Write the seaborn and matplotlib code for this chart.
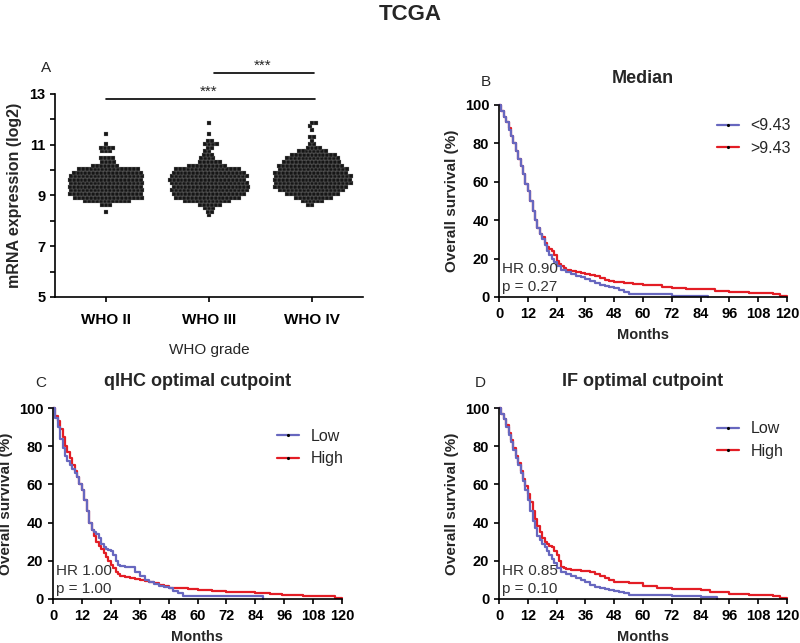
import numpy as np
import pandas as pd
import matplotlib
matplotlib.use('Agg')
import matplotlib.pyplot as plt
from matplotlib.lines import Line2D
import seaborn as sns

# Panel A: mRNA expression per WHO grade (points sit in rows: value level -> number of points)
grades = ['WHO II', 'WHO III', 'WHO IV']
who2_levels = [8.36, 8.64, 8.78, 8.92, 9.06, 9.2, 9.34, 9.48, 9.62, 9.76, 9.9, 10.04, 10.18, 10.32, 10.46, 10.74, 10.88, 11.02, 11.44]
who2_counts = [1, 3, 12, 18, 19, 19, 19, 19, 19, 19, 18, 16, 7, 4, 4, 3, 4, 1, 1]
who3_levels = [8.22, 8.36, 8.5, 8.64, 8.78, 8.92, 9.06, 9.2, 9.34, 9.48, 9.62, 9.76, 9.9, 10.04, 10.18, 10.32, 10.46, 10.6, 10.74, 10.88, 11.02, 11.16, 11.44, 11.86]
who3_counts = [1, 2, 3, 6, 12, 17, 19, 20, 20, 20, 20, 20, 19, 17, 10, 6, 4, 3, 2, 2, 4, 2, 1, 1]
who4_levels = [8.64, 8.78, 8.92, 9.06, 9.2, 9.34, 9.48, 9.62, 9.76, 9.9, 10.04, 10.18, 10.32, 10.46, 10.6, 10.74, 10.88, 11.02, 11.16, 11.3, 11.58, 11.72, 11.86]
who4_counts = [2, 6, 10, 14, 17, 19, 20, 20, 20, 19, 18, 17, 15, 14, 12, 8, 4, 2, 1, 2, 1, 1, 2]

# Panel B: median split
b_labels = ['<9.43', '>9.43']
b_low_t = [0, 1, 2, 3, 4, 5, 6, 7, 8, 9, 10, 11, 12, 13, 14, 15, 16, 17, 18, 19, 20, 21, 22, 23, 24,
           26, 28, 30, 32, 34, 36, 38, 40, 42, 44, 46, 48, 50, 52, 54, 72, 87]
b_low_s = [100, 97, 94, 91, 87, 84, 80, 76, 72, 68, 64, 59, 55, 50, 45, 40, 36, 33, 30, 27, 24, 22, 20, 18, 16,
           14, 13, 12, 11, 10.5, 9.5, 8.5, 7.5, 6.5, 5.5, 5, 4.5, 3.5, 2.5, 1.7, 0.6, 0]
b_high_t = [0, 1, 2, 3, 4, 5, 6, 7, 8, 9, 10, 11, 12, 13, 14, 15, 16, 17, 18, 19, 20, 21, 22, 23, 24, 25, 26, 27, 28,
            30, 32, 34, 36, 38, 40, 42, 44, 46, 48, 52, 56, 60, 64, 68, 72, 78, 84, 90, 96, 104, 114, 117, 120]
b_high_s = [100, 97, 94, 91, 88, 84, 80, 76, 72, 68, 64, 59, 55, 50, 45, 40, 36, 33, 31, 28, 26, 25, 24, 22, 19, 17, 16, 15, 14,
            13.5, 13, 12.5, 12, 11.5, 11, 10, 9, 8.5, 8, 7.5, 7, 6.5, 6, 5, 4.5, 4.2, 4, 3, 2.5, 2, 1.5, 0.5, 0.5]

# Panel C: qIHC optimal cutpoint
c_labels = ['Low', 'High']
c_low_t = [0, 1, 2, 3, 4, 5, 6, 7, 8, 9, 10, 11, 12, 13, 14, 15, 16, 17, 18, 19, 20, 21, 22, 23, 24, 25, 26, 27, 28,
           30, 32, 34, 36, 38, 40, 42, 44, 46, 48, 50, 52, 54, 87]
c_low_s = [100, 95, 90, 84, 79, 75, 72, 70, 68, 66, 64, 60, 57, 52, 46, 40, 36, 35, 34, 32, 29, 27, 26, 25.5, 25, 23, 20, 18, 17.5,
           17, 16.5, 14, 12, 10, 9, 8, 7, 6.5, 5.5, 4, 3, 1.8, 0]
c_high_t = [0, 1, 2, 3, 4, 5, 6, 7, 8, 9, 10, 11, 12, 13, 14, 15, 16, 17, 18, 19, 20, 21, 22, 23, 24, 25, 26, 27, 28,
            30, 32, 34, 36, 38, 40, 42, 44, 46, 48, 52, 56, 60, 66, 72, 84, 90, 95, 104, 114, 117, 120]
c_high_s = [100, 96, 93, 89, 85, 80, 77, 74, 70, 67, 64, 60, 57, 52, 46, 40, 36, 33, 30, 28, 26, 24, 22, 20, 18, 16, 14, 13, 12,
            11.5, 11, 10.5, 10, 9.5, 9, 8.5, 7.5, 7, 6, 5.5, 5, 4.5, 4, 3.5, 3, 2.5, 2, 1.5, 1.5, 0.5, 0.5]

# Panel D: IF optimal cutpoint
d_labels = ['Low', 'High']
d_low_t = [0, 1, 2, 3, 4, 5, 6, 7, 8, 9, 10, 11, 12, 13, 14, 15, 16, 17, 18, 19, 20, 21, 22, 23, 24,
           26, 28, 30, 32, 34, 36, 38, 40, 42, 44, 46, 48, 50, 52, 54, 60, 72, 84, 91]
d_low_s = [100, 97, 94, 90, 86, 82, 78, 74, 70, 66, 62, 57, 52, 46, 41, 37, 33, 31, 29, 27, 25, 23, 21, 19, 16,
           14, 13, 12, 11, 10, 9, 7.5, 6.5, 5.5, 5, 4.5, 4, 3.5, 3, 2, 2, 1.5, 1, 0]
d_high_t = [0, 1, 2, 3, 4, 5, 6, 7, 8, 9, 10, 11, 12, 13, 14, 15, 16, 17, 18, 19, 20, 21, 22, 23, 24, 25, 26, 27, 28,
            30, 32, 34, 36, 38, 40, 42, 44, 46, 48, 54, 60, 66, 72, 84, 88, 96, 104, 114, 117, 120]
d_high_s = [100, 97, 94, 91, 87, 83, 79, 75, 71, 67, 63, 59, 55, 51, 46, 42, 38, 35, 32, 30, 29, 28, 27, 25, 23, 20, 17, 16, 15.5,
            15, 15, 14.5, 14.5, 14, 13, 12, 11, 10, 9, 8.5, 7, 6, 5, 4.5, 3.5, 2.5, 2, 1.5, 0.5, 0.5]

stats_b = ['HR 0.90', 'p = 0.27']
stats_c = ['HR 1.00', 'p = 1.00']
stats_d = ['HR 0.85', 'p = 0.10']

blue = '#6767bf'
red = '#e31d25'

sns.set_style('ticks')
plt.rcParams['font.family'] = ['Liberation Sans', 'DejaVu Sans']
plt.rcParams['axes.linewidth'] = 1.2
plt.rcParams['xtick.major.width'] = 1.2
plt.rcParams['ytick.major.width'] = 1.2
plt.rcParams['xtick.major.size'] = 3.5
plt.rcParams['ytick.major.size'] = 3.5
plt.rcParams['xtick.color'] = 'black'
plt.rcParams['ytick.color'] = 'black'
plt.rcParams['axes.edgecolor'] = 'black'

fig = plt.figure(figsize=(8, 6.43), dpi=100)
fig.text(0.5125, 1 - 14 / 643, 'TCGA', ha='center', va='center', fontsize=16, fontweight='bold')

# ---- Panel A ----
expr = pd.DataFrame({
    'grade': np.repeat(grades, [sum(who2_counts), sum(who3_counts), sum(who4_counts)]),
    'expr': np.concatenate([np.repeat(who2_levels, who2_counts),
                            np.repeat(who3_levels, who3_counts),
                            np.repeat(who4_levels, who4_counts)]),
})
axA = fig.add_axes([55 / 800, 1 - 297 / 643, 308 / 800, 203 / 643])
sns.swarmplot(data=expr, x='grade', y='expr', order=grades, color='#161616', marker='s',
              size=2.5, linewidth=0.2, edgecolor='#9a9a9a', ax=axA, warn_thresh=1)
axA.set_xlim(-0.5, 2.5)
axA.set_ylim(5, 13)
axA.set_yticks(range(5, 14))
axA.set_yticklabels([str(v) if v % 2 == 1 else '' for v in range(5, 14)], fontsize=10.5, fontweight='bold')
axA.set_xticks(range(3))
axA.set_xticklabels(grades, fontsize=11, fontweight='bold')
axA.tick_params(axis='x', pad=8)
axA.set_xlabel('WHO grade', fontsize=11)
axA.xaxis.set_label_coords(0.5, -0.227)
axA.set_ylabel('mRNA expression (log2)', fontsize=11.5, fontweight='bold')
axA.yaxis.set_label_coords(-0.107, 0.5)
sns.despine(ax=axA)

# significance bars
axA.plot([0, 2.03], [12.8, 12.8], color='black', lw=1.2, clip_on=False)
axA.text(1.0, 12.8, '***', ha='center', va='bottom', fontsize=11)
axA.plot([1.05, 2.02], [13.82, 13.82], color='black', lw=1.2, clip_on=False)
axA.text(1.52, 13.82, '***', ha='center', va='bottom', fontsize=11)


def km_panel(rect, low_t, low_s, high_t, high_s, labels, stats, title, leg_xy):
    ax = fig.add_axes(rect)
    df = pd.DataFrame({
        'month': low_t + high_t,
        'surv': low_s + high_s,
        'group': [labels[0]] * len(low_t) + [labels[1]] * len(high_t),
    })
    # high group first so the low (blue) line sits on top
    sns.lineplot(data=df, x='month', y='surv', hue='group', hue_order=[labels[1], labels[0]],
                 palette=[red, blue], estimator=None, drawstyle='steps-post',
                 lw=1.6, legend=False, ax=ax, clip_on=False)
    ax.set_xlim(0, 120)
    ax.set_ylim(0, 100)
    ax.set_xticks(range(0, 121, 12))
    ax.set_yticks(range(0, 101, 20))
    for lab in ax.get_xticklabels() + ax.get_yticklabels():
        lab.set_fontweight('bold')
        lab.set_fontsize(10.5)
    ax.set_xlabel('Months', fontsize=10.5, fontweight='bold')
    ax.xaxis.set_label_coords(0.5, -0.16)
    ax.set_ylabel('Overall survival (%)', fontsize=11, fontweight='bold')
    ax.yaxis.set_label_coords(-0.14, 0.5)
    ax.set_title(title, fontsize=13, fontweight='bold', pad=16)
    ax.text(0.01, 0.145, stats[0], transform=ax.transAxes, ha='left', va='center', fontsize=11, color='#333333')
    ax.text(0.01, 0.05, stats[1], transform=ax.transAxes, ha='left', va='center', fontsize=11, color='#333333')
    handles = [Line2D([], [], color=blue, lw=1.6, marker='.', markersize=2.5,
                      markerfacecolor='black', markeredgecolor='black'),
               Line2D([], [], color=red, lw=1.6, marker='.', markersize=2.5,
                      markerfacecolor='black', markeredgecolor='black')]
    ax.legend(handles, labels, loc='upper left', bbox_to_anchor=leg_xy, frameon=False,
              fontsize=11.5, handlelength=1.4, handletextpad=0.7, labelspacing=0.45,
              borderpad=0, borderaxespad=0)
    sns.despine(ax=ax)
    return ax


axB = km_panel([499 / 800, 1 - 297 / 643, 288 / 800, 192 / 643], b_low_t, b_low_s, b_high_t, b_high_s,
               b_labels, stats_b, 'Median', (0.757, 0.93))
axC = km_panel([53 / 800, 1 - 599 / 643, 289 / 800, 191 / 643], c_low_t, c_low_s, c_high_t, c_high_s,
               c_labels, stats_c, 'qIHC optimal cutpoint', (0.775, 0.89))
axD = km_panel([499 / 800, 1 - 599 / 643, 288 / 800, 191 / 643], d_low_t, d_low_s, d_high_t, d_high_s,
               d_labels, stats_d, 'IF optimal cutpoint', (0.757, 0.93))

# panel letters
fig.text(46 / 800, 1 - 68 / 643, 'A', ha='center', va='center', fontsize=11)
fig.text(486 / 800, 1 - 82 / 643, 'B', ha='center', va='center', fontsize=11)
fig.text(41 / 800, 1 - 383 / 643, 'C', ha='center', va='center', fontsize=11)
fig.text(480 / 800, 1 - 383 / 643, 'D', ha='center', va='center', fontsize=11)

fig.savefig('out.png', dpi=100)
